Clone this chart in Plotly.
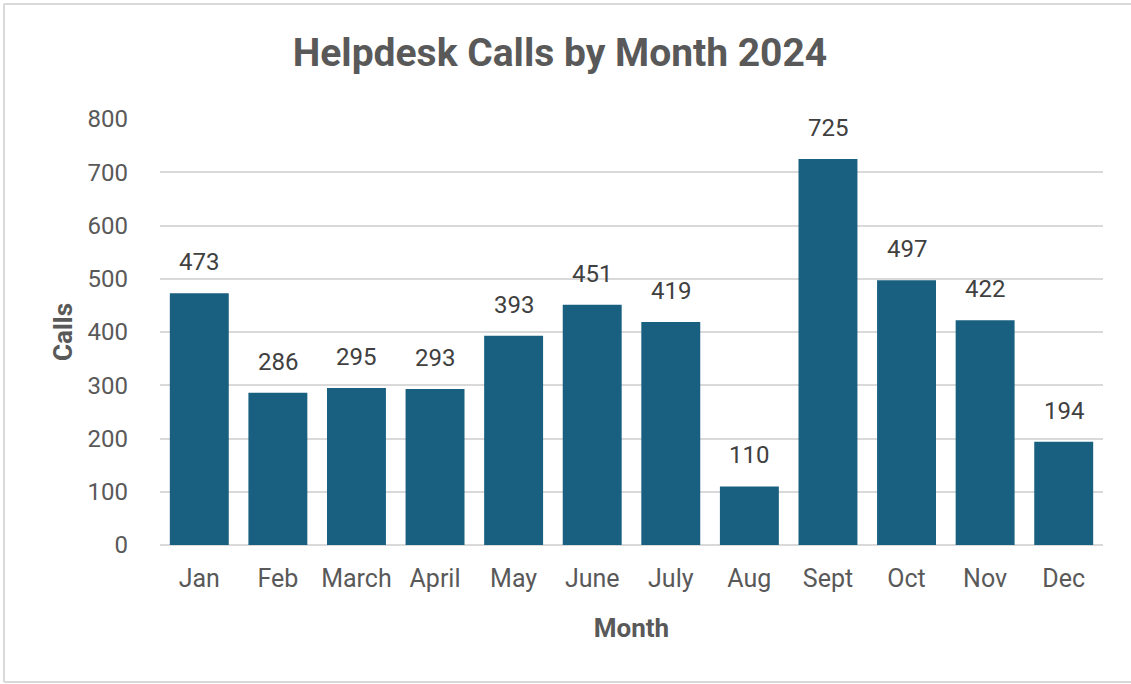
import plotly.graph_objects as go

months = ["Jan", "Feb", "March", "April", "May", "June", "July", "Aug", "Sept", "Oct", "Nov", "Dec"]
calls = [473, 286, 295, 293, 393, 451, 419, 110, 725, 497, 422, 194]
y_ticks = [0, 100, 200, 300, 400, 500, 600, 700, 800]

FONT = "Roboto, Liberation Sans, sans-serif"
GRAY = "#595959"
DARK = "#404040"
BAR = "#185f80"

W, H = 1131, 684
L, R, T, B = 160, 1131 - 1103, 119, 684 - 545
pw, ph = W - L - R, H - T - B

fig = go.Figure()
fig.add_trace(go.Bar(x=months, y=calls, marker=dict(color=BAR, line=dict(width=0)),
                     hoverinfo="x+y"))

for m, v in zip(months, calls):
    fig.add_annotation(x=m, y=v, text=str(v), showarrow=False, yanchor="bottom", yshift=15,
                       font=dict(family=FONT, size=24, color=DARK))


def px(x):
    return (x - L) / pw


def py(y):
    return (H - B - y) / ph


# chart-area frame: left, top and bottom edges (right edge lies beyond the picture)
frame = dict(color="#d9d9d9", width=2)
fig.add_shape(type="line", xref="paper", yref="paper", x0=px(4), x1=px(4), y0=py(682), y1=py(4),
              line=frame, layer="below")
fig.add_shape(type="line", xref="paper", yref="paper", x0=px(4), x1=px(W + 20), y0=py(4), y1=py(4),
              line=frame, layer="below")
fig.add_shape(type="line", xref="paper", yref="paper", x0=px(4), x1=px(W + 20), y0=py(682), y1=py(682),
              line=frame, layer="below")

fig.update_layout(
    width=W, height=H,
    margin=dict(l=L, r=R, t=T, b=B),
    paper_bgcolor="white", plot_bgcolor="white",
    bargap=0.25,
    showlegend=False,
    font=dict(family=FONT, color=GRAY),
    title=dict(text="<b>Helpdesk Calls by Month 2024</b>", x=560 / W, xref="container",
               xanchor="center", y=1 - 52 / H, yref="container", yanchor="middle",
               font=dict(family=FONT, size=39, color=GRAY)),
)
fig.update_xaxes(
    title=dict(text="<b>Month</b>", standoff=26, font=dict(family=FONT, size=26, color=GRAY)),
    tickfont=dict(family=FONT, size=25, color=GRAY),
    showline=False, showgrid=False, ticks="", ticklabelstandoff=16, zeroline=False,
)
fig.update_yaxes(
    title=dict(text="<b>Calls</b>", standoff=7, font=dict(family=FONT, size=26, color=GRAY)),
    tickfont=dict(family=FONT, size=24, color=GRAY),
    range=[0, 800], tickvals=y_ticks, ticks="", ticklabelstandoff=31,
    showgrid=True, gridcolor="#d9d9d9", gridwidth=1.5,
    zeroline=True, zerolinecolor="#d9d9d9", zerolinewidth=2, showline=False,
)

fig.write_html("out.html", config={"displayModeBar": False},
               post_script="document.body.style.margin='0';document.body.style.overflow='hidden';")
